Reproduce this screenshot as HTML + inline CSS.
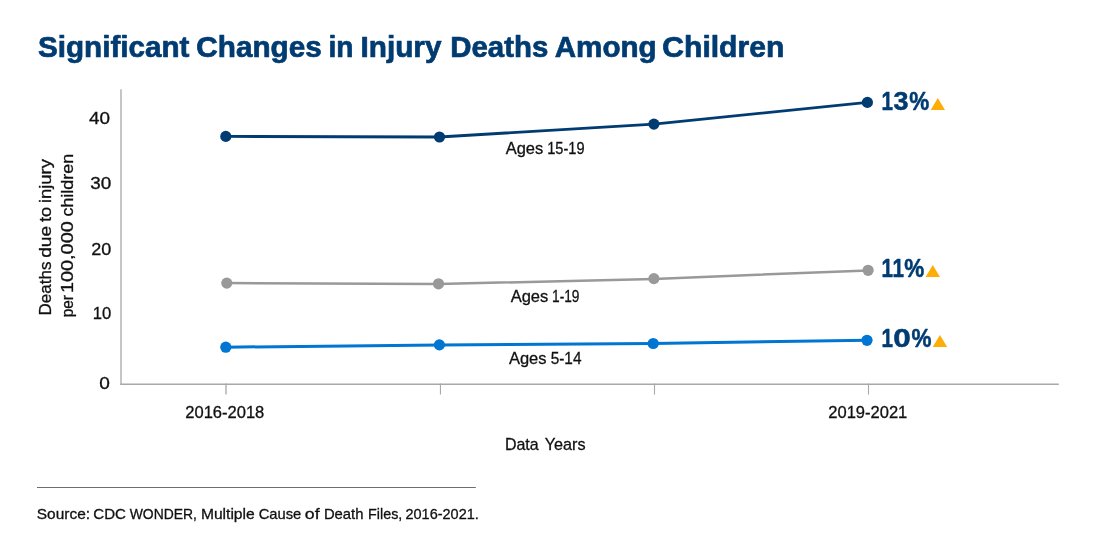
<!DOCTYPE html>
<html lang="en">
<head>
<meta charset="utf-8">
<title>Significant Changes in Injury Deaths Among Children</title>
<style>
html,body{margin:0;padding:0;background:#fff;}
body{width:1093px;height:555px;overflow:hidden;font-family:"Liberation Sans",sans-serif;}
svg{display:block;}
text{font-family:"Liberation Sans",sans-serif;}
.title{font-size:29.5px;font-weight:bold;fill:#003b71;stroke:#003b71;stroke-width:0.7px;stroke-linejoin:round;}
.tick{font-size:16px;fill:#111;stroke:#111;stroke-width:0.3px;}
.ylab{font-size:17px;fill:#111;stroke:#111;stroke-width:0.3px;}
.lbl{font-size:17px;fill:#111;stroke:#111;stroke-width:0.3px;}
.pct{font-size:25.5px;font-weight:bold;fill:#003b71;stroke:#003b71;stroke-width:0.5px;stroke-linejoin:round;}
.src{font-size:15px;fill:#111;stroke:#111;stroke-width:0.3px;}
</style>
</head>
<body>
<svg width="1093" height="555" viewBox="0 0 1093 555">
<rect width="1093" height="555" fill="#fff"/>
<text class="title" y="57.3"><tspan x="38" textLength="151.5" lengthAdjust="spacingAndGlyphs">Significant</tspan> <tspan x="196.3" textLength="125.5" lengthAdjust="spacingAndGlyphs">Changes</tspan> <tspan x="328.5" textLength="25" lengthAdjust="spacingAndGlyphs">in</tspan> <tspan x="360.5" textLength="81" lengthAdjust="spacingAndGlyphs">Injury</tspan> <tspan x="450.3" textLength="98" lengthAdjust="spacingAndGlyphs">Deaths</tspan> <tspan x="554.7" textLength="102" lengthAdjust="spacingAndGlyphs">Among</tspan> <tspan x="662.3" textLength="122" lengthAdjust="spacingAndGlyphs">Children</tspan></text>

<!-- axes -->
<g stroke="#a8a8a8" fill="none">
<line x1="121" y1="89.2" x2="121" y2="384.9" stroke-width="1.3"/>
<line x1="120.35" y1="384.2" x2="1058.8" y2="384.2" stroke-width="1.35"/>
<line x1="226" y1="383.4" x2="226" y2="394.6" stroke-width="1.3"/>
<line x1="440.45" y1="383.4" x2="440.45" y2="394.6" stroke-width="1.1"/>
<line x1="654.5" y1="383.4" x2="654.5" y2="394.6" stroke-width="1.1"/>
<line x1="868.5" y1="383.4" x2="868.5" y2="394.6" stroke-width="1.1"/>
</g>

<!-- y ticks -->
<g class="tick">
<text x="89" y="123.8" textLength="21" lengthAdjust="spacingAndGlyphs">40</text>
<text x="90.3" y="188.8" textLength="21" lengthAdjust="spacingAndGlyphs">30</text>
<text x="91.2" y="254.6" textLength="20" lengthAdjust="spacingAndGlyphs">20</text>
<text x="92.8" y="318.8" textLength="18.5" lengthAdjust="spacingAndGlyphs">10</text>
<text x="99.3" y="388.8" textLength="10.6" lengthAdjust="spacingAndGlyphs">0</text>
</g>

<!-- y label -->
<g class="ylab">
<text transform="translate(50.5,0) rotate(-90)"><tspan x="-315.5" textLength="53.9" lengthAdjust="spacingAndGlyphs">Deaths</tspan> <tspan x="-257.8" textLength="32.0" lengthAdjust="spacingAndGlyphs">due</tspan> <tspan x="-222.0" textLength="15.1" lengthAdjust="spacingAndGlyphs">to</tspan> <tspan x="-203.1" textLength="44.0" lengthAdjust="spacingAndGlyphs">injury</tspan></text>
<text transform="translate(73.0,0) rotate(-90)"><tspan x="-317.3" textLength="22.3" lengthAdjust="spacingAndGlyphs">per</tspan> <tspan x="-293.0" textLength="71.7" lengthAdjust="spacingAndGlyphs">100,000</tspan> <tspan x="-216.6" textLength="62.9" lengthAdjust="spacingAndGlyphs">children</tspan></text>
</g>

<!-- x tick labels -->
<g class="tick">
<text x="185.3" y="417.9" textLength="79" lengthAdjust="spacingAndGlyphs">2016-2018</text>
<text x="828.3" y="418.1" textLength="79" lengthAdjust="spacingAndGlyphs">2019-2021</text>
</g>
<text class="lbl" y="449.9"><tspan x="504.9" textLength="33.8" lengthAdjust="spacingAndGlyphs">Data</tspan> <tspan x="544.7" textLength="40.8" lengthAdjust="spacingAndGlyphs">Years</tspan></text>

<!-- series -->
<g fill="#003b71" stroke="#003b71">
<polyline fill="none" stroke-width="2.8" stroke-linejoin="round" points="225.8,136.4 439.5,137.0 653.9,124.1 867.4,102.4"/>
<circle cx="225.8" cy="136.4" r="5.6" stroke="none"/><circle cx="439.5" cy="137.0" r="5.6" stroke="none"/><circle cx="653.9" cy="124.1" r="5.6" stroke="none"/><circle cx="867.4" cy="102.4" r="5.6" stroke="none"/>
</g>
<g fill="#999999" stroke="#999999">
<polyline fill="none" stroke-width="2.5" stroke-linejoin="round" points="226.8,283.1 438.5,284.1 653.9,278.9 868.1,270.4"/>
<circle cx="226.8" cy="283.1" r="5.6" stroke="none"/><circle cx="438.5" cy="283.8" r="5.6" stroke="none"/><circle cx="653.9" cy="278.6" r="5.6" stroke="none"/><circle cx="868.1" cy="270.3" r="5.6" stroke="none"/>
</g>
<g fill="#0075d1" stroke="#0075d1">
<polyline fill="none" stroke-width="3.0" stroke-linejoin="round" points="225.8,347.2 439.4,344.9 653.2,343.5 867.0,340.3"/>
<circle cx="225.8" cy="347.2" r="5.6" stroke="none"/><circle cx="439.4" cy="344.9" r="5.6" stroke="none"/><circle cx="653.2" cy="343.5" r="5.6" stroke="none"/><circle cx="867.0" cy="340.3" r="5.6" stroke="none"/>
</g>

<!-- series labels -->
<g class="lbl">
<text y="153.7"><tspan x="505.7" textLength="37.5" lengthAdjust="spacingAndGlyphs">Ages</tspan> <tspan x="547.2" textLength="37.3" lengthAdjust="spacingAndGlyphs">15-19</tspan></text>
<text y="301.7"><tspan x="510.7" textLength="37.6" lengthAdjust="spacingAndGlyphs">Ages</tspan> <tspan x="552.0" textLength="27.5" lengthAdjust="spacingAndGlyphs">1-19</tspan></text>
<text y="363.7"><tspan x="508.9" textLength="37.6" lengthAdjust="spacingAndGlyphs">Ages</tspan> <tspan x="550.7" textLength="30.8" lengthAdjust="spacingAndGlyphs">5-14</tspan></text>
</g>

<!-- percent labels -->
<text class="pct" y="109.6"><tspan x="881.5" textLength="11.5" lengthAdjust="spacingAndGlyphs">1</tspan><tspan x="893.5" textLength="15" lengthAdjust="spacingAndGlyphs">3</tspan><tspan x="909.3" textLength="20" lengthAdjust="spacingAndGlyphs">%</tspan></text>
<text class="pct" y="276.6"><tspan x="881.5" textLength="11.5" lengthAdjust="spacingAndGlyphs">1</tspan><tspan x="892.5" textLength="11.5" lengthAdjust="spacingAndGlyphs">1</tspan><tspan x="904.2" textLength="20" lengthAdjust="spacingAndGlyphs">%</tspan></text>
<text class="pct" y="346.6"><tspan x="881.5" textLength="11.5" lengthAdjust="spacingAndGlyphs">1</tspan><tspan x="893.3" textLength="17.5" lengthAdjust="spacingAndGlyphs">0</tspan><tspan x="911.5" textLength="20" lengthAdjust="spacingAndGlyphs">%</tspan></text>
<g fill="#fdad06">
<polygon points="930.7,110 945,110 937.8,98.1"/>
<polygon points="925.6,277 940,277 932.8,265.1"/>
<polygon points="932.7,347 947.2,347 939.9,335.1"/>
</g>

<!-- source -->
<line x1="37" y1="487.5" x2="475.8" y2="487.5" stroke="#6e6e6e" stroke-width="1"/>
<text class="src" y="518.7"><tspan x="36.8" textLength="53.3" lengthAdjust="spacingAndGlyphs">Source:</tspan> <tspan x="93.3" textLength="32.7" lengthAdjust="spacingAndGlyphs">CDC</tspan> <tspan x="129.7" textLength="67.2" lengthAdjust="spacingAndGlyphs">WONDER,</tspan> <tspan x="200.9" textLength="53.8" lengthAdjust="spacingAndGlyphs">Multiple</tspan> <tspan x="258.7" textLength="42.6" lengthAdjust="spacingAndGlyphs">Cause</tspan> <tspan x="304.8" textLength="14.8" lengthAdjust="spacingAndGlyphs">of</tspan> <tspan x="323.9" textLength="39.6" lengthAdjust="spacingAndGlyphs">Death</tspan> <tspan x="368.1" textLength="34.2" lengthAdjust="spacingAndGlyphs">Files,</tspan> <tspan x="405.5" textLength="73.3" lengthAdjust="spacingAndGlyphs">2016-2021.</tspan></text>
</svg>
</body>
</html>
